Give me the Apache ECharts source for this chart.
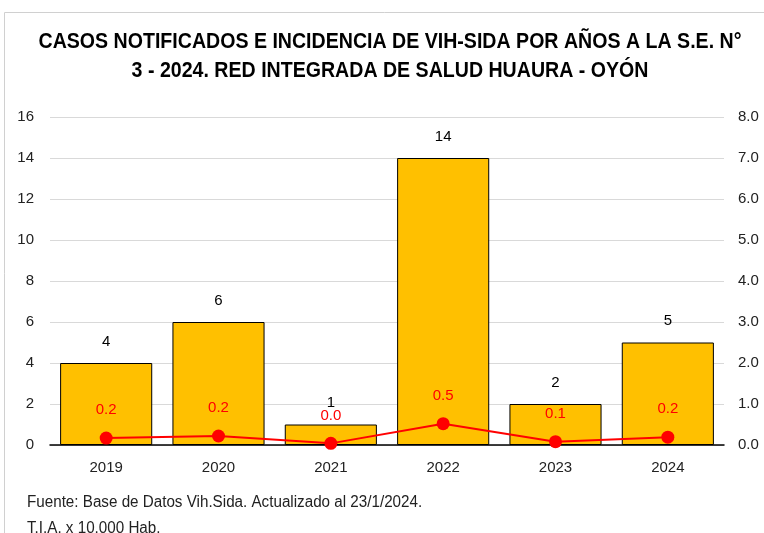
<!DOCTYPE html>
<html><head><meta charset="utf-8">
<script src="https://cdn.jsdelivr.net/npm/echarts@6/dist/echarts.min.js"></script>
<style>html,body{margin:0;padding:0;background:#fff}#c{width:764px;height:533px}</style>
</head><body><div id="c"></div>
<script>
const years = ['2019','2020','2021','2022','2023','2024'];
const casos = [4, 6, 1, 14, 2, 5];
const tia = [0.17, 0.22, 0.04, 0.52, 0.08, 0.19];
const leftTicks = [0, 16, 2];
const rightTicks = [0, 8, 1];
const titleLines = ['CASOS NOTIFICADOS E INCIDENCIA DE VIH-SIDA POR AÑOS A LA S.E. N°', '3 - 2024. RED INTEGRADA DE SALUD HUAURA - OYÓN'];
const footLines = ['Fuente: Base de Datos Vih.Sida. Actualizado al 23/1/2024.', 'T.I.A. x 10,000 Hab.'];
const F = '"Liberation Sans",Arial,sans-serif';
const chart = echarts.init(document.getElementById('c'));
chart.setOption({
  animation: false,
  textStyle: {fontFamily: F},
  graphic: [
    {type:'rect', shape:{x:4.5,y:12.5,width:800,height:600}, style:{fill:'none',stroke:'#d0d0d0',lineWidth:1}, z:-1},
    {type:'text', x:390, y:42, scaleX:0.89, style:{text:titleLines[0], font:'bold 22px '+F, fill:'#000', textAlign:'center', textVerticalAlign:'middle'}},
    {type:'text', x:390, y:71, scaleX:0.89, style:{text:titleLines[1], font:'bold 22px '+F, fill:'#000', textAlign:'center', textVerticalAlign:'middle'}},
    {type:'text', x:27, y:503, scaleX:0.95, style:{text:footLines[0], font:'16px '+F, fill:'#222', textAlign:'left', textVerticalAlign:'middle'}},
    {type:'text', x:27, y:529, scaleX:0.95, style:{text:footLines[1], font:'16px '+F, fill:'#222', textAlign:'left', textVerticalAlign:'middle'}}
  ],
  grid: {left: 50, right: 40, top: 117, bottom: 88},
  xAxis: {
    type: 'category', data: years,
    axisLine: {lineStyle: {color: '#000', width: 1.5}},
    axisTick: {show: false},
    axisLabel: {color: '#222', fontSize: 15, margin: 15}
  },
  yAxis: [
    {type: 'value', min: leftTicks[0], max: leftTicks[1], interval: leftTicks[2],
     axisLabel: {color: '#222', fontSize: 15, margin: 16},
     splitLine: {lineStyle: {color: '#d9d9d9'}}},
    {type: 'value', min: rightTicks[0], max: rightTicks[1], interval: rightTicks[2],
     axisLabel: {color: '#222', fontSize: 15, margin: 14, formatter: v => v.toFixed(1)},
     splitLine: {show: false}}
  ],
  series: [
    {type: 'bar', data: casos, barCategoryGap: '18%',
     itemStyle: {color: '#FFC000', borderColor: '#000', borderWidth: 1},
     label: {show: true, position: 'top', distance: 14, color: '#000', fontSize: 15}},
    {type: 'line', yAxisIndex: 1, data: tia, symbol: 'circle', symbolSize: 13,
     lineStyle: {color: '#FF0000', width: 2}, itemStyle: {color: '#FF0000'},
     label: {show: true, position: 'top', distance: 14, color: '#FF0000', fontSize: 15, formatter: p => p.value.toFixed(1)}}
  ]
});
</script></body></html>
